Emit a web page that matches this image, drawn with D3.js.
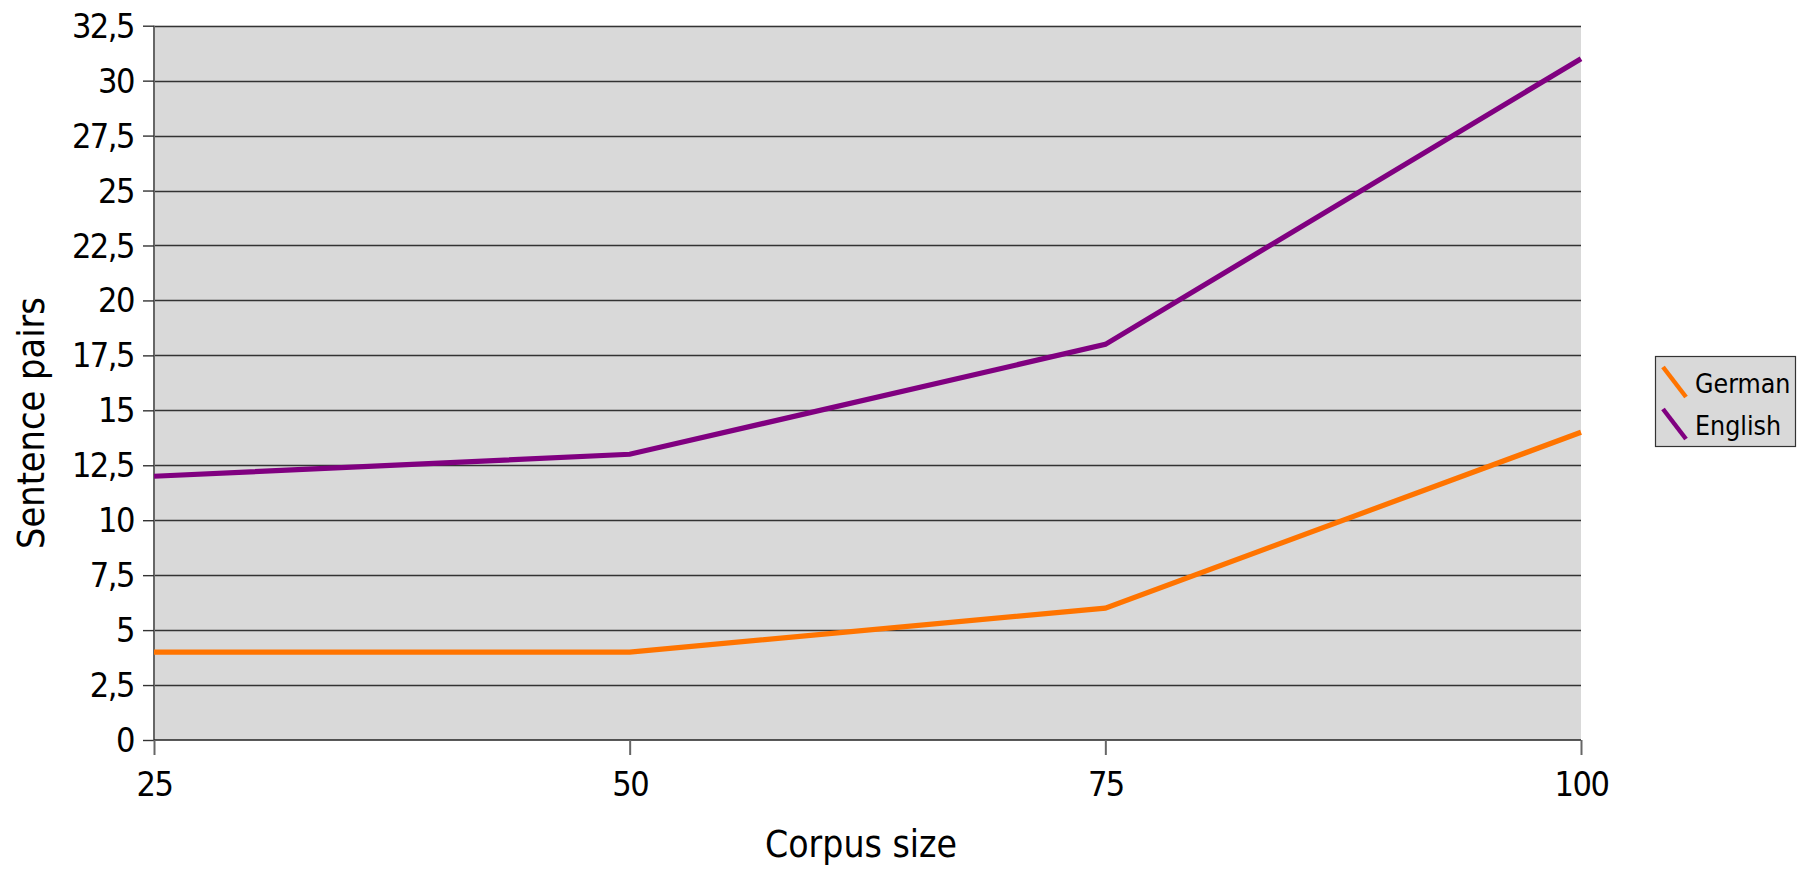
<!DOCTYPE html>
<html>
<head>
<meta charset="utf-8">
<script src="https://cdn.jsdelivr.net/npm/d3@7"></script>
<style>
  html, body { margin: 0; padding: 0; background: #fff; }
  svg { display: block; font-family: "DejaVu Sans Condensed", "DejaVu Sans", sans-serif; font-stretch: condensed; }
</style>
</head>
<body>
<svg id="chart" width="1810" height="873"></svg>
<script>
// Corpus size (x) against number of sentence pairs (y)
const corpusSizes = [25, 50, 75, 100];
const germanPairs = [4, 4, 6, 14];
const englishPairs = [12, 13, 18, 31];
const yTickValues = [0, 2.5, 5, 7.5, 10, 12.5, 15, 17.5, 20, 22.5, 25, 27.5, 30, 32.5];
const seriesNames = ["German", "English"];
const seriesColors = ["#ff7400", "#800080"];

const series = [
  { name: seriesNames[0], color: seriesColors[0], values: germanPairs },
  { name: seriesNames[1], color: seriesColors[1], values: englishPairs }
];

const svg = d3.select("#chart");
const plot = { left: 154, right: 1581, top: 25.7, bottom: 740 };

const x = d3.scaleLinear().domain([25, 100]).range([plot.left, plot.right]);
const y = d3.scaleLinear().domain([0, 32.5]).range([plot.bottom, plot.top]);

const fmt = v => String(v).replace(".", ",");

// plot background
svg.append("rect")
  .attr("x", plot.left).attr("y", plot.top)
  .attr("width", plot.right - plot.left).attr("height", plot.bottom - plot.top)
  .attr("fill", "#d9d9d9");

// horizontal gridlines
svg.append("g")
  .selectAll("line")
  .data(yTickValues.filter(v => v > 0))
  .join("line")
  .attr("x1", plot.left).attr("x2", plot.right)
  .attr("y1", d => Math.round(y(d)) + 0.5).attr("y2", d => Math.round(y(d)) + 0.5)
  .attr("stroke", "#333").attr("stroke-width", 1.4);

// y axis
const yAxis = svg.append("g")
  .attr("transform", `translate(${plot.left},0)`)
  .call(d3.axisLeft(y).tickValues(yTickValues).tickFormat(fmt).tickSize(11).tickPadding(9));
yAxis.select(".domain").attr("stroke", "#666").attr("stroke-width", 2)
  .attr("d", `M0,${plot.top}V${plot.bottom}`);
yAxis.selectAll(".tick line").attr("stroke", "#333").attr("stroke-width", 1.4);
yAxis.selectAll(".tick text")
  .attr("font-size", 34).attr("letter-spacing", -1.5).attr("fill", "#000")
  .attr("dy", "0.34em")
  .attr("font-family", "DejaVu Sans Condensed, DejaVu Sans, sans-serif");

// x axis
const xAxis = svg.append("g")
  .attr("transform", `translate(0,${plot.bottom})`)
  .call(d3.axisBottom(x).tickValues(corpusSizes).tickFormat(d3.format("d")).tickSize(15).tickPadding(17));
xAxis.select(".domain").attr("stroke", "#222").attr("stroke-width", 1.6)
  .attr("d", `M${plot.left},0H${plot.right}`);
xAxis.selectAll(".tick line").attr("stroke", "#666").attr("stroke-width", 2);
xAxis.selectAll(".tick text")
  .attr("font-size", 34).attr("letter-spacing", -1.5).attr("fill", "#000")
  .attr("font-family", "DejaVu Sans Condensed, DejaVu Sans, sans-serif");

// series lines
const line = d3.line()
  .x((d, i) => x(corpusSizes[i]))
  .y(d => y(d));

svg.append("g")
  .selectAll("path")
  .data(series)
  .join("path")
  .attr("d", d => line(d.values))
  .attr("fill", "none")
  .attr("stroke", d => d.color)
  .attr("stroke-width", 5.2)
  .attr("stroke-linejoin", "miter");

// axis titles
svg.append("text")
  .attr("x", 861).attr("y", 857)
  .attr("text-anchor", "middle")
  .attr("font-size", 37)
  .text("Corpus size");

svg.append("text")
  .attr("transform", "translate(44,423) rotate(-90)")
  .attr("text-anchor", "middle")
  .attr("font-size", 37.5)
  .text("Sentence pairs");

// legend
const legend = svg.append("g");
legend.append("rect")
  .attr("x", 1655.5).attr("y", 356.5)
  .attr("width", 140).attr("height", 90)
  .attr("fill", "#d9d9d9").attr("stroke", "#333").attr("stroke-width", 1.2);

const items = legend.selectAll("g.item")
  .data(series)
  .join("g")
  .attr("class", "item")
  .attr("transform", (d, i) => `translate(0,${i * 42})`);

items.append("line")
  .attr("x1", 1663).attr("y1", 367)
  .attr("x2", 1686).attr("y2", 397)
  .attr("stroke", d => d.color).attr("stroke-width", 4.5);

items.append("text")
  .attr("x", 1695).attr("y", 393)
  .attr("font-size", 26.5)
  .text(d => d.name);
</script>
</body>
</html>
